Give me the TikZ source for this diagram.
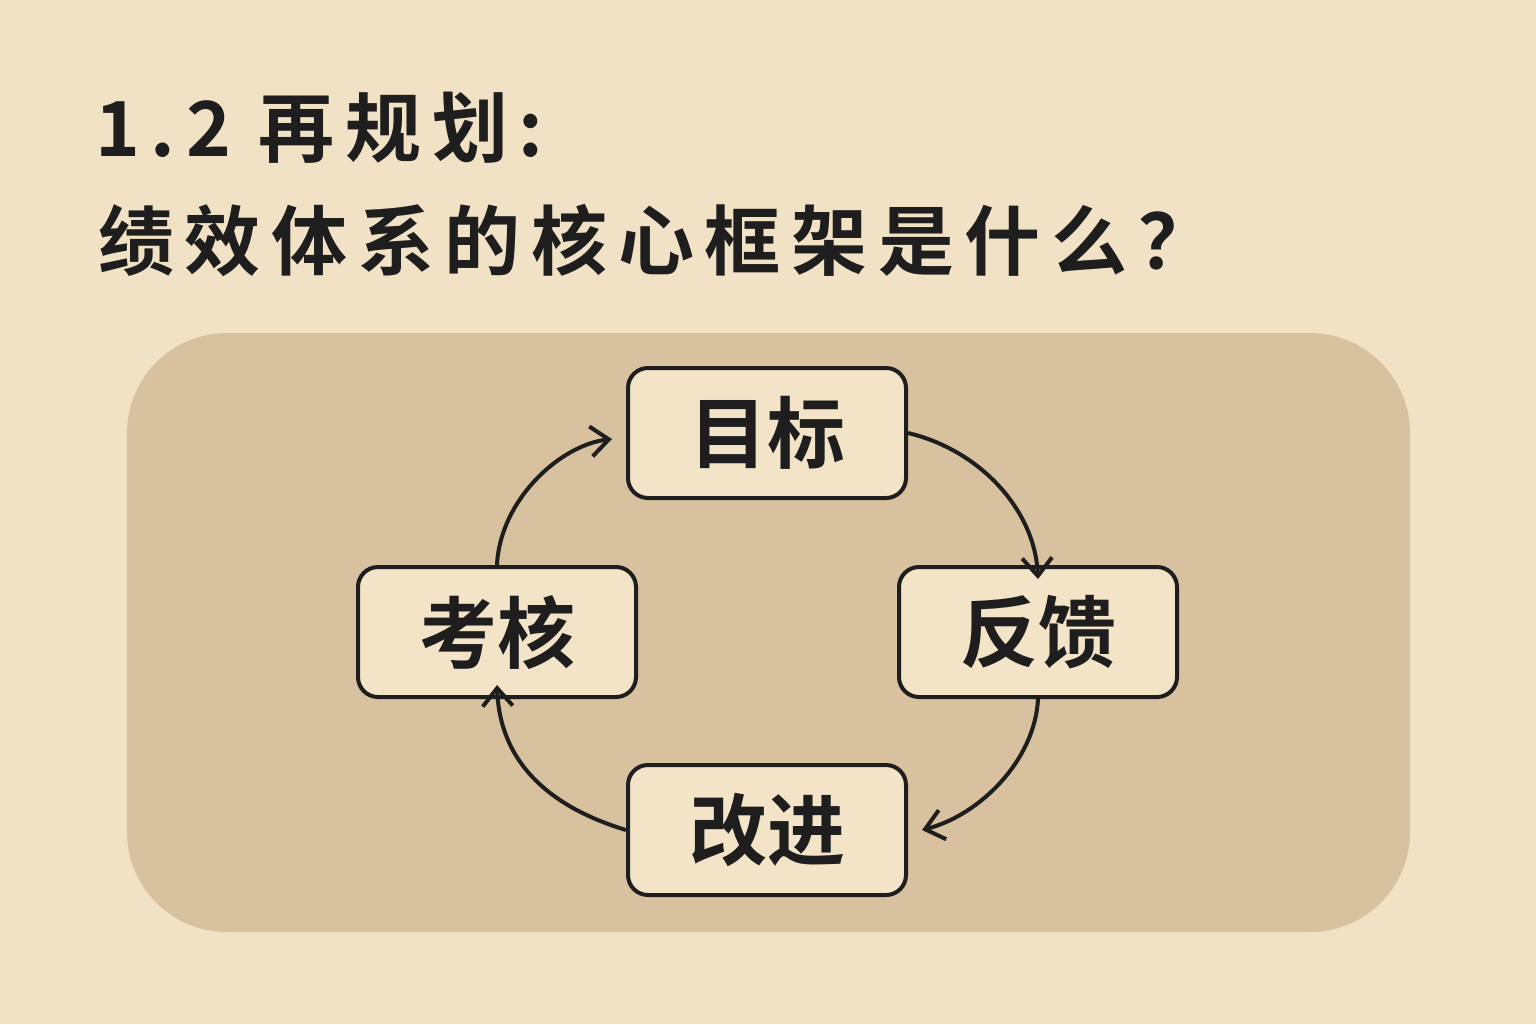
\documentclass[tikz,border=0pt]{standalone}
\usepackage{fontspec}
\newfontfamily\cjk{Noto Sans CJK SC}[BoldFont={* Bold}]
\newfontfamily\cjkwide{Noto Sans CJK SC}[BoldFont={* Bold},LetterSpace=14]
\usetikzlibrary{arrows.meta}
\definecolor{bg}{HTML}{F1E2C6}
\definecolor{panel}{HTML}{D8C19E}
\definecolor{boxfill}{HTML}{F3E4C8}
\definecolor{ink}{HTML}{1E1E1E}
\begin{document}
\begin{tikzpicture}[x=0.5pt,y=-0.5pt,
  stepbox/.style={draw=ink,line width=2pt,fill=boxfill,rounded corners=10pt,minimum width=139pt,minimum height=65pt,font=\cjk\bfseries\fontsize{39}{40}\selectfont,text=ink,inner sep=0pt},
  flow/.style={draw=ink,line width=2pt,-{Straight Barb[length=9pt,width=15pt,line width=2pt]}},
  title/.style={anchor=west,font=\cjkwide\bfseries\fontsize{38}{40}\selectfont,text=ink,inner sep=0pt}]
\fill[bg] (0,0) rectangle (1536,1024);
\fill[panel,rounded corners=50pt] (127,333) rectangle (1410,932);
\node[title] (t1) at (95,128) {1.2 再规划:};
\node[title] (t2) at (98,240) {绩效体系的核心框架是什么？};
\node[stepbox] (a) at (767,433) {目标};
\node[stepbox] (b) at (1038,632) {反馈};
\node[stepbox] (c) at (767,830) {改进};
\node[stepbox] (d) at (497,632) {考核};
\draw[flow] (a.east) .. controls (980,450) and (1035,510) .. ([yshift=-7pt]b.north);
\draw[flow] (b.south) .. controls (1035,760) and (980,815) .. ([xshift=7pt]c.east);
\draw[flow] (c.west) .. controls (560,810) and (500,770) .. ([yshift=7pt]d.south);
\draw[flow] (d.north) .. controls (500,500) and (560,445) .. ([xshift=-7pt,yshift=-3pt]a.west);
\end{tikzpicture}
\end{document}
